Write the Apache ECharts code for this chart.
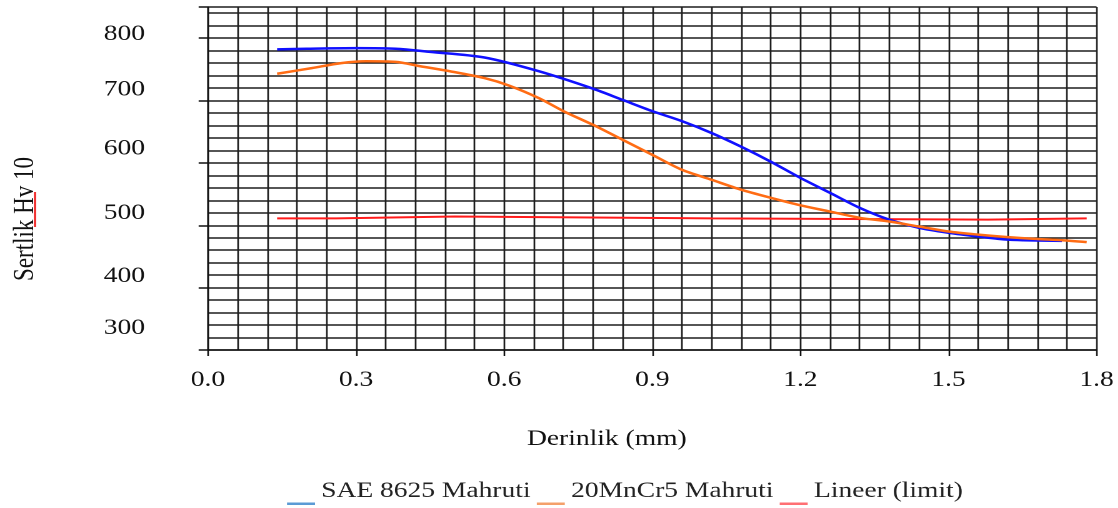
<!DOCTYPE html>
<html>
<head>
<meta charset="utf-8">
<script src="https://cdn.jsdelivr.net/npm/echarts@6/dist/echarts.min.js"></script>
<style>
  html, body { margin: 0; padding: 0; background: #fff; overflow: hidden; }
  /* the source figure is stretched horizontally, so the chart is drawn narrower and scaled */
  #main { width: 894px; height: 508px; transform: scaleX(1.25); transform-origin: 0 0; }
</style>
</head>
<body>
<div id="main"></div>
<script>
// Sertlik (Hv 10) - derinlik (mm)
var seriesNames = ['SAE 8625 Mahruti', '20MnCr5 Mahruti', 'Lineer (limit)'];

var sae8625Depth = [0.14, 0.20, 0.30, 0.38, 0.45, 0.56, 0.67, 0.78, 0.84, 0.90, 0.96, 1.02, 1.08, 1.14, 1.20, 1.26, 1.32, 1.38, 1.44, 1.50, 1.56, 1.62, 1.73];
var sae8625Hv    = [782, 783, 784, 783, 778, 769, 747, 719, 701, 683, 667, 648, 626, 602, 576, 552, 528, 509, 496, 488, 482, 477, 475];

var mncrDepth = [0.14, 0.21, 0.27, 0.32, 0.38, 0.43, 0.49, 0.56, 0.61, 0.67, 0.72, 0.78, 0.84, 0.90, 0.96, 1.02, 1.08, 1.14, 1.20, 1.26, 1.32, 1.38, 1.44, 1.50, 1.56, 1.62, 1.68, 1.73, 1.78];
var mncrHv    = [743, 752, 760, 763, 762, 755, 747, 736, 724, 704, 683, 661, 637, 613, 589, 573, 557, 544, 532, 522, 512, 506, 498, 490, 485, 481, 478, 476, 473];

var limitDepth = [0.14, 0.26, 0.26, 0.50, 0.50, 1.02, 1.02, 1.58, 1.58, 1.78];
var limitHv    = [511, 511, 514, 514, 511, 511, 509, 509, 511, 511];

var yLabels = [300, 400, 500, 600, 700, 800];

function pairs(xs, ys) {
    return xs.map(function (x, i) { return [x, ys[i]]; });
}

var serif = '"Liberation Serif", serif';
var gridColor = '#1e1e1e';
var legendIcon = 'path://M0,0 M0,25.5 L22.4,25.5 L22.4,28 L0,28 Z';
var legendColors = ['#5b9bd5', '#f4a06a', '#ff6f73'];

var chartDom = document.getElementById('main');
var myChart = echarts.init(chartDom, null, { renderer: 'canvas', devicePixelRatio: 2 });
var option;

option = {
    animation: false,
    grid: { left: 166.4, right: 14.4, top: 7, bottom: 158 },
    xAxis: {
        type: 'value',
        min: 0,
        max: 1.8,
        interval: 0.3,
        axisLine: { show: true, lineStyle: { color: '#111', width: 1.5 } },
        axisTick: { show: true, length: 6, lineStyle: { color: '#111', width: 1.3 } },
        axisLabel: {
            margin: 19,
            fontFamily: serif,
            fontSize: 22,
            color: '#111',
            formatter: function (v) { return v.toFixed(1); }
        },
        splitLine: { show: true, lineStyle: { color: gridColor, width: 1.35 } },
        minorTick: { show: false, splitNumber: 5 },
        minorSplitLine: { show: true, lineStyle: { color: gridColor, width: 1.35 } }
    },
    yAxis: {
        type: 'value',
        min: 300,
        max: 850,
        interval: 100,
        axisLine: { show: true, lineStyle: { color: '#111', width: 1.3 } },
        axisTick: { show: true, length: 7.5, lineStyle: { color: '#111', width: 1.5 } },
        axisLabel: {
            margin: 50.4,
            fontFamily: serif,
            fontSize: 22,
            color: '#111',
            formatter: function (v) {
                if (yLabels.indexOf(v) < 0) return '';
                return '{u' + v + '|' + v + '}';
            },
            rich: {
                u800: { padding: [0, 0, 8, 0] },
                u700: { padding: [0, 0, 22, 0] },
                u600: { padding: [0, 0, 28, 0] },
                u500: { padding: [0, 0, 24, 0] },
                u400: { padding: [0, 0, 23, 0] },
                u300: { padding: [0, 0, 44, 0] }
            }
        },
        splitLine: { show: true, lineStyle: { color: gridColor, width: 1.6 } },
        minorTick: { show: false, splitNumber: 5 },
        minorSplitLine: { show: true, lineStyle: { color: gridColor, width: 1.6 } }
    },
    legend: {
        left: 229.6,
        top: 477,
        padding: 0,
        itemWidth: 22.4,
        itemHeight: 28,
        itemGap: 5,
        icon: legendIcon,
        textStyle: { fontFamily: serif, fontSize: 22, color: '#222' },
        data: seriesNames.map(function (name, i) {
            return {
                name: name,
                itemStyle: { color: legendColors[i], borderColor: legendColors[i], borderWidth: 0 }
            };
        })
    },
    graphic: [
        {
            type: 'text',
            left: 421.6,
            top: 428,
            style: { text: 'Derinlik (mm)', font: '22px ' + serif, fill: '#111' }
        },
        {
            type: 'text',
            left: 8.8,
            top: 157,
            rotation: Math.PI / 2,
            style: { text: 'Sertlik Hv 10', font: '23px ' + serif, fill: '#111' }
        },
        {
            type: 'line',
            shape: { x1: 28, y1: 192, x2: 28, y2: 227 },
            style: { stroke: '#ee1c1c', lineWidth: 1.6 }
        }
    ],
    series: [
        {
            name: seriesNames[0],
            type: 'line',
            data: pairs(sae8625Depth, sae8625Hv),
            smooth: 0.3,
            showSymbol: false,
            lineStyle: { color: '#1010ff', width: 2.5 },
            itemStyle: { color: '#1010ff' },
            z: 3
        },
        {
            name: seriesNames[1],
            type: 'line',
            data: pairs(mncrDepth, mncrHv),
            smooth: 0.3,
            showSymbol: false,
            lineStyle: { color: '#ff6c14', width: 2.5 },
            itemStyle: { color: '#ff6c14' },
            z: 4
        },
        {
            name: seriesNames[2],
            type: 'line',
            data: pairs(limitDepth, limitHv),
            showSymbol: false,
            lineStyle: { color: '#ff1a1a', width: 2 },
            itemStyle: { color: '#ff1a1a' },
            z: 2
        }
    ]
};

option && myChart.setOption(option);
</script>
</body>
</html>
